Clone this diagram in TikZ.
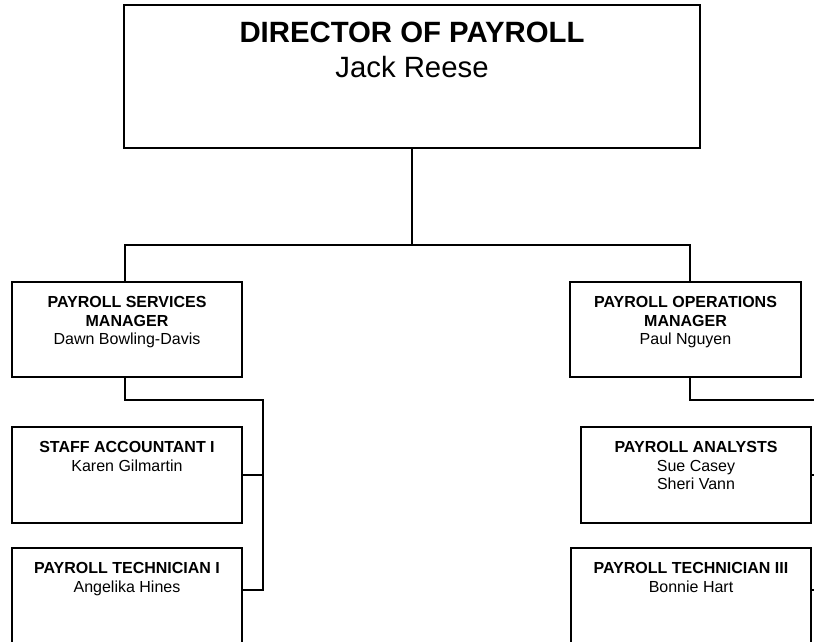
\documentclass[tikz,border=0pt]{standalone}
\usepackage{fontspec}
\setmainfont{Liberation Sans}
\usetikzlibrary{positioning}
\begin{document}
\begin{tikzpicture}[
          x=0.75pt, y=-0.75pt,
          line width=1pt,
          box/.style={draw, inner sep=0pt, minimum width=172.5pt, minimum height=72pt},
          txt/.style={align=center, inner sep=0pt, font=\fontsize{12}{13.8}\selectfont},
          bigtxt/.style={align=center, inner sep=0pt, font=\fontsize{22}{26}\selectfont}
        ]
        \useasboundingbox (0,0) rectangle (814,642);
        % director
        \node[box, minimum width=432pt, minimum height=107.25pt] (dir) at (412,76.5) {};
        \node[bigtxt, below=12.75pt of dir.north] (dir-t) {\textbf{DIRECTOR OF PAYROLL}\\Jack Reese};
        % managers
        \node[box, minimum height=71.25pt] (svc) at (127,329.5) {};
        \node[txt, below=11pt of svc.north] (svc-t) {\textbf{PAYROLL SERVICES}\\\textbf{MANAGER}\\Dawn Bowling-Davis};
        \node[box, minimum width=173.25pt, minimum height=71.25pt] (ops) at (685.5,329.5) {};
        \node[txt, below=11pt of ops.north] (ops-t) {\textbf{PAYROLL OPERATIONS}\\\textbf{MANAGER}\\Paul Nguyen};
        % staff under services
        \node[box] (acct) at (127,475) {};
        \node[txt, below=11pt of acct.north] (acct-t) {\textbf{STAFF ACCOUNTANT I}\\Karen Gilmartin};
        \node[box, minimum height=75pt] (tech1) at (127,598) {};
        \node[txt, below=11pt of tech1.north] (tech1-t) {\textbf{PAYROLL TECHNICIAN I}\\Angelika Hines};
        % staff under operations
        \node[box] (ana) at (696,475) {};
        \node[txt, below=11pt of ana.north] (ana-t) {\textbf{PAYROLL ANALYSTS}\\Sue Casey\\Sheri Vann};
        \node[box, minimum width=180pt, minimum height=75pt] (tech3) at (691,598) {};
        \node[txt, below=11pt of tech3.north] (tech3-t) {\textbf{PAYROLL TECHNICIAN III}\\Bonnie Hart};
        % connectors
        \coordinate (top-j) at (412,245);
        \coordinate (svc-j) at (263,400);
        \coordinate (ops-j) at (818,400);
        \draw (dir) -- (top-j);
        \draw ([xshift=-1.5pt]svc.north) |- (top-j) -| ([xshift=3.4pt]ops.north);
        \draw ([xshift=-1.5pt]svc.south) |- (svc-j) |- ([yshift=6pt]tech1.east);
        \draw (acct.east) -- (acct.east -| svc-j);
        \draw ([xshift=3.4pt]ops.south) |- (ops-j) |- ([yshift=6pt]tech3.east);
        \draw (ana.east) -- (ana.east -| ops-j);
\end{tikzpicture}
\end{document}
